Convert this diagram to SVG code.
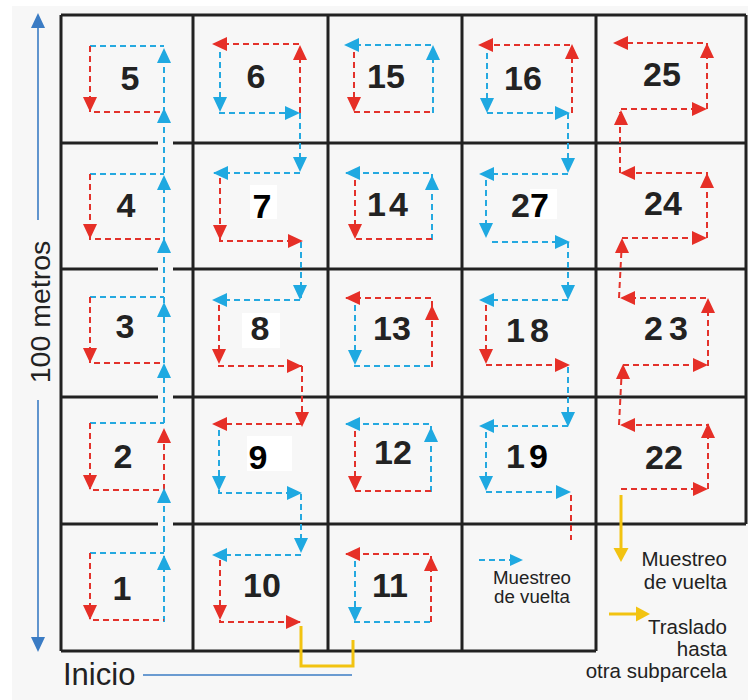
<svg xmlns="http://www.w3.org/2000/svg" xmlns:xlink="http://www.w3.org/1999/xlink" width="748" height="700" viewBox="0 0 748 700">
<style>
.grid{stroke:#222;stroke-width:3;fill:none}
.r{stroke:#e3322b;stroke-width:2;stroke-dasharray:6 4;fill:none}
.b{stroke:#25a9e0;stroke-width:2;stroke-dasharray:6 4;fill:none}
.ra{fill:#e62f27}
.ba{fill:#1fa9e1}
.y{stroke:#f2c311;stroke-width:3;fill:none}
.ya{fill:#f2c311}
.ax{stroke:#3b7cc4;stroke-width:1.6;fill:none}
.axa{fill:#3b7cc4}
.num{font-family:"Liberation Sans",Arial,sans-serif;font-weight:bold;font-size:34px;fill:#222;text-anchor:middle}
.lg{font-family:"Liberation Sans",Arial,sans-serif;fill:#222}
.patch{fill:#ffffff}
</style>
<defs>
<path id="a" d="M0,0 L-15,-7 L-15,7 Z"/>
<path id="as" d="M0,0 L-13,-6 L-13,6 Z"/>
<path id="ay" d="M0,0 L-14,-7.5 L-14,7.5 Z"/>
</defs>
<rect x="0" y="0" width="748" height="700" fill="#f7f7f7"/>
<rect x="0" y="0" width="748" height="6" fill="#ffffff"/>
<rect x="0" y="0" width="12" height="700" fill="#ffffff"/>

<g id="grid" class="grid">
<path d="M61,15 H746 M61,15 V651 M193,15 V651 M328,15 V651 M462,15 V651 M596,15 V651 M746,15 V524"/>
<path d="M61,143 H158 M173,143 H746 M61,269 H158 M173,269 H746 M61,397 H158 M173,397 H746 M61,524 H158 M173,524 H746 M61,651 H596"/>
</g>

<g id="scale">
<path class="ax" d="M38,26 V220 M38,400 V639"/>
<use xlink:href="#a" class="axa" transform="translate(38,13) rotate(-90)"/>
<use xlink:href="#a" class="axa" transform="translate(38,652) rotate(90)"/>
<text class="lg" font-size="28.5" text-anchor="middle" transform="translate(50,312) rotate(-90)">100 metros</text>
<text class="lg" x="63" y="685" font-size="31">Inicio</text>
<path class="ax" d="M143,675 H352"/>
</g>

<g id="cell-1"><text class="num" x="122" y="600">1</text></g>
<g id="cell-2"><text class="num" x="123" y="468">2</text></g>
<g id="cell-3"><text class="num" x="125" y="338">3</text></g>
<g id="cell-4"><text class="num" x="126" y="217">4</text></g>
<g id="cell-5"><text class="num" x="130" y="90">5</text></g>
<g id="cell-6"><text class="num" x="256" y="88">6</text></g>
<g id="cell-7"><rect class="patch" x="250" y="185" width="27" height="34"/><text class="num" x="262" y="218" font-size="38" style="fill:#000">7</text></g>
<g id="cell-8"><rect class="patch" x="242" y="313" width="38" height="35"/><text class="num" x="260" y="340">8</text></g>
<g id="cell-9"><rect class="patch" x="247" y="436" width="45" height="35"/><text class="num" x="258" y="469" style="fill:#000">9</text></g>
<g id="cell-10"><text class="num" x="262" y="597">10</text></g>
<g id="cell-11"><text class="num" x="390" y="597">11</text></g>
<g id="cell-12"><text class="num" x="393" y="464">12</text></g>
<g id="cell-13"><text class="num" x="392" y="340">13</text></g>
<g id="cell-14"><text class="num" x="389" y="216" letter-spacing="3">14</text></g>
<g id="cell-15"><text class="num" x="386" y="88">15</text></g>
<g id="cell-16"><text class="num" x="523" y="90">16</text></g>
<g id="cell-27"><rect class="patch" x="530" y="189" width="27" height="30"/><text class="num" x="530" y="217">2<tspan style="fill:#000">7</tspan></text></g>
<g id="cell-18"><text class="num" x="530" y="342" letter-spacing="5">18</text></g>
<g id="cell-19"><text class="num" x="529" y="468" letter-spacing="4">1<tspan style="fill:#000">9</tspan></text></g>
<g id="cell-22"><text class="num" x="664" y="469">22</text></g>
<g id="cell-23"><text class="num" x="669" y="340" letter-spacing="6">23</text></g>
<g id="cell-24"><text class="num" x="663" y="215">24</text></g>
<g id="cell-25"><text class="num" x="662" y="86">25</text></g>

<g id="legend">
<path class="b" d="M479,560 H511"/>
<use xlink:href="#as" class="ba" transform="translate(523,560)"/>
<text class="lg" x="532" y="584" font-size="18.7" text-anchor="middle">Muestreo</text>
<text class="lg" x="532" y="603" font-size="18.7" text-anchor="middle">de vuelta</text>
<path class="y" d="M621,495 V549"/>
<use xlink:href="#ay" class="ya" transform="translate(621,562) rotate(90)"/>
<path class="y" d="M609,614 H638"/>
<use xlink:href="#ay" class="ya" transform="translate(650,614)"/>
<g class="lg" font-size="20.5" text-anchor="end">
<text x="727" y="566">Muestreo</text>
<text x="727" y="589">de vuelta</text>
<text x="727" y="634">Traslado</text>
<text x="727" y="656">hasta</text>
<text x="727" y="678">otra subparcela</text>
</g>
</g>

<g id="connectors">
<!-- column 1 -->
<path class="b" d="M90,46 H164 M90,174 H164 M90,297 H164 M90,423 H164 M90,553 H164 M164,622 V490 M164,423 V50"/>
<path class="r" d="M90,46 V112 H160 M90,174 V239 H160 M90,297 V363 H160 M90,423 V490 H164 M164,490 V430 M90,553 V620 H164"/>
<use xlink:href="#a" class="ra" transform="translate(90,112) rotate(90)"/>
<use xlink:href="#a" class="ra" transform="translate(90,239) rotate(90)"/>
<use xlink:href="#a" class="ra" transform="translate(90,363) rotate(90)"/>
<use xlink:href="#a" class="ra" transform="translate(90,490) rotate(90)"/>
<use xlink:href="#a" class="ra" transform="translate(90,620) rotate(90)"/>
<use xlink:href="#a" class="ra" transform="translate(164,428) rotate(-90)"/>
<use xlink:href="#a" class="ba" transform="translate(164,48) rotate(-90)"/>
<use xlink:href="#a" class="ba" transform="translate(164,108) rotate(-90)"/>
<use xlink:href="#a" class="ba" transform="translate(164,175) rotate(-90)"/>
<use xlink:href="#a" class="ba" transform="translate(164,238) rotate(-90)"/>
<use xlink:href="#a" class="ba" transform="translate(164,302) rotate(-90)"/>
<use xlink:href="#a" class="ba" transform="translate(164,363) rotate(-90)"/>
<use xlink:href="#a" class="ba" transform="translate(164,488) rotate(-90)"/>
<use xlink:href="#a" class="ba" transform="translate(164,555) rotate(-90)"/>

<!-- column 2 -->
<path class="r" d="M300,113 V44 H214 M220,178 V241 H301 M219,305 V366 H302 M302,366 V425 M302,424 H214 M220,560 V622 H300"/>
<path class="b" d="M220,52 V113 H298 M300,113 V170 M300,173 H214 M301,242 V298 M300,300 H214 M219,430 V493 H300 M301,494 V551 M301,555 H214"/>
<use xlink:href="#a" class="ra" transform="translate(300,45) rotate(-90)"/>
<use xlink:href="#a" class="ra" transform="translate(212,44) rotate(180)"/>
<use xlink:href="#a" class="ba" transform="translate(220,112) rotate(90)"/>
<use xlink:href="#a" class="ba" transform="translate(300,113)"/>
<use xlink:href="#a" class="ba" transform="translate(300,172) rotate(90)"/>
<use xlink:href="#a" class="ba" transform="translate(213,173) rotate(180)"/>
<use xlink:href="#a" class="ra" transform="translate(220,240) rotate(90)"/>
<use xlink:href="#a" class="ra" transform="translate(303,241)"/>
<use xlink:href="#a" class="ba" transform="translate(300,300) rotate(90)"/>
<use xlink:href="#a" class="ba" transform="translate(212,300) rotate(180)"/>
<use xlink:href="#a" class="ra" transform="translate(219,364) rotate(90)"/>
<use xlink:href="#a" class="ra" transform="translate(302,366)"/>
<use xlink:href="#a" class="ra" transform="translate(302,427) rotate(90)"/>
<use xlink:href="#a" class="ra" transform="translate(212,424) rotate(180)"/>
<use xlink:href="#a" class="ba" transform="translate(219,491) rotate(90)"/>
<use xlink:href="#a" class="ba" transform="translate(302,493)"/>
<use xlink:href="#a" class="ba" transform="translate(301,553) rotate(90)"/>
<use xlink:href="#a" class="ba" transform="translate(212,555) rotate(180)"/>
<use xlink:href="#a" class="ra" transform="translate(220,620) rotate(90)"/>
<use xlink:href="#a" class="ra" transform="translate(301,622)"/>
<path class="y" d="M301,626 V666 H353 V640"/>

<!-- column 3 -->
<path class="b" d="M433,113 V45 H346 M432,240 V173 H346 M355,305 V366 H432 M431,492 V424 H346 M355,561 V622 H431"/>
<path class="r" d="M354,52 V112 H433 M355,180 V239 H432 M432,367 V298 H346 M355,431 V491 H431 M431,622 V554 H346"/>
<use xlink:href="#a" class="ba" transform="translate(433,45) rotate(-90)"/>
<use xlink:href="#a" class="ba" transform="translate(344,45) rotate(180)"/>
<use xlink:href="#a" class="ra" transform="translate(354,112) rotate(90)"/>
<use xlink:href="#a" class="ba" transform="translate(432,175) rotate(-90)"/>
<use xlink:href="#a" class="ba" transform="translate(345,173) rotate(180)"/>
<use xlink:href="#a" class="ra" transform="translate(355,239) rotate(90)"/>
<use xlink:href="#a" class="ra" transform="translate(432,305) rotate(-90)"/>
<use xlink:href="#a" class="ra" transform="translate(345,298) rotate(180)"/>
<use xlink:href="#a" class="ba" transform="translate(355,365) rotate(90)"/>
<use xlink:href="#a" class="ba" transform="translate(431,427) rotate(-90)"/>
<use xlink:href="#a" class="ba" transform="translate(345,424) rotate(180)"/>
<use xlink:href="#a" class="ra" transform="translate(355,491) rotate(90)"/>
<use xlink:href="#a" class="ra" transform="translate(431,556) rotate(-90)"/>
<use xlink:href="#a" class="ra" transform="translate(345,554) rotate(180)"/>
<use xlink:href="#a" class="ba" transform="translate(355,622) rotate(90)"/>

<!-- column 4 -->
<path class="r" d="M572,113 V45 H480 M486,305 V365 H568 M571,495 V540"/>
<path class="b" d="M487,53 V113 H568 M568,113 V171 M568,174 H480 M486,180 V238 M492,242 H568 M568,242 V298 M568,300 H480 M568,367 V425 M568,426 H480 M486,432 V492 H569"/>
<use xlink:href="#a" class="ra" transform="translate(572,44) rotate(-90)"/>
<use xlink:href="#a" class="ra" transform="translate(478,45) rotate(180)"/>
<use xlink:href="#a" class="ba" transform="translate(487,113) rotate(90)"/>
<use xlink:href="#a" class="ba" transform="translate(570,113)"/>
<use xlink:href="#a" class="ba" transform="translate(568,173) rotate(90)"/>
<use xlink:href="#a" class="ba" transform="translate(479,174) rotate(180)"/>
<use xlink:href="#a" class="ba" transform="translate(486,238) rotate(90)"/>
<use xlink:href="#a" class="ba" transform="translate(570,242)"/>
<use xlink:href="#a" class="ba" transform="translate(568,300) rotate(90)"/>
<use xlink:href="#a" class="ba" transform="translate(479,300) rotate(180)"/>
<use xlink:href="#a" class="ra" transform="translate(486,364) rotate(90)"/>
<use xlink:href="#a" class="ra" transform="translate(570,365)"/>
<use xlink:href="#a" class="ba" transform="translate(568,427) rotate(90)"/>
<use xlink:href="#a" class="ba" transform="translate(479,426) rotate(180)"/>
<use xlink:href="#a" class="ba" transform="translate(486,491) rotate(90)"/>
<use xlink:href="#a" class="ba" transform="translate(571,492)"/>

<!-- column 5 -->
<path class="r" d="M621,489 H706 M708,489 V425 H622 M619,425 L622,366 M623,365 H706 M708,366 V298 H622 M619,298 L622,240 M622,238 H705 M707,238 V173 H622 M620,173 V112 M621,109 H705 M707,109 V43 H615"/>
<use xlink:href="#a" class="ra" transform="translate(708,489)"/>
<use xlink:href="#a" class="ra" transform="translate(708,423) rotate(-90)"/>
<use xlink:href="#a" class="ra" transform="translate(620,425) rotate(180)"/>
<use xlink:href="#a" class="ra" transform="translate(623,364) rotate(-90)"/>
<use xlink:href="#a" class="ra" transform="translate(708,365)"/>
<use xlink:href="#a" class="ra" transform="translate(708,298) rotate(-90)"/>
<use xlink:href="#a" class="ra" transform="translate(620,298) rotate(180)"/>
<use xlink:href="#a" class="ra" transform="translate(622,238) rotate(-90)"/>
<use xlink:href="#a" class="ra" transform="translate(707,238)"/>
<use xlink:href="#a" class="ra" transform="translate(707,173) rotate(-90)"/>
<use xlink:href="#a" class="ra" transform="translate(620,173) rotate(180)"/>
<use xlink:href="#a" class="ra" transform="translate(621,110) rotate(-90)"/>
<use xlink:href="#a" class="ra" transform="translate(707,109)"/>
<use xlink:href="#a" class="ra" transform="translate(707,43) rotate(-90)"/>
<use xlink:href="#a" class="ra" transform="translate(613,43) rotate(180)"/>
</g>
</svg>
